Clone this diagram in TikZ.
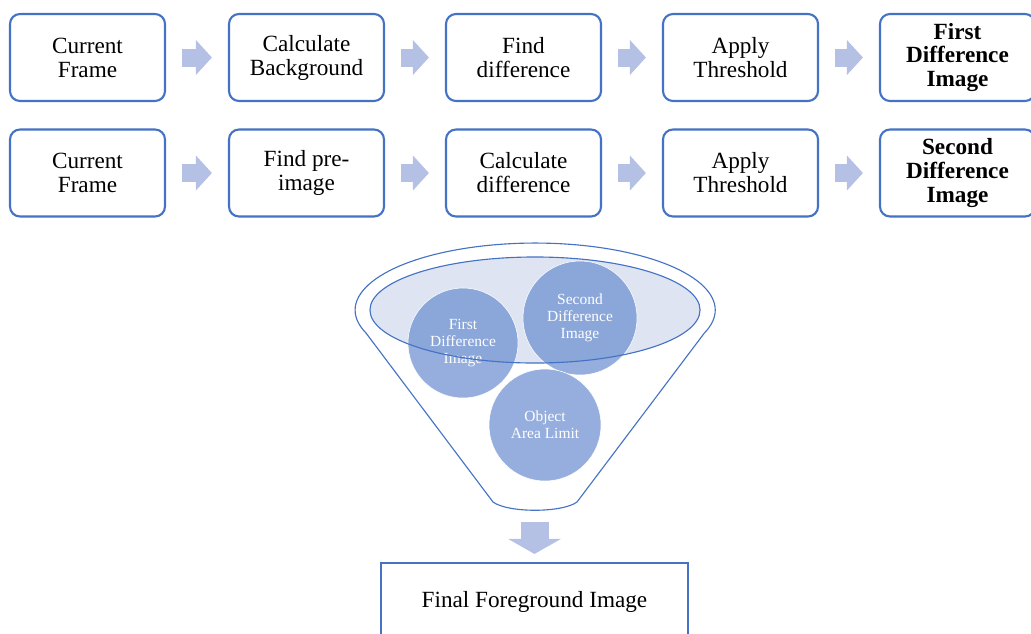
\documentclass[tikz,border=0pt]{standalone}
\usepackage{fontspec}
\setmainfont{Liberation Serif}
\usetikzlibrary{arrows.meta}
\definecolor{boxblue}{RGB}{68,114,196}
\definecolor{arrowblue}{RGB}{180,192,228}
\definecolor{ballblue}{RGB}{104,140,206}
\definecolor{ellfill}{RGB}{222,228,242}

\begin{document}
\begin{tikzpicture}[x=0.025cm, y=-0.025cm, rect/.style={rectangle, draw=boxblue, line width=1.5pt, fill=white, rounded corners=#1, minimum width=3.875cm, minimum height=2.175cm, align=center, font=\fontsize{16.5}{17}\selectfont}, rect/.default=0.25cm, blkarrow/.style={draw=arrowblue, line width=0.45cm, -{Triangle[length=0.4cm, width=0.85cm]}, shorten <=0.4cm, shorten >=0.4cm}, ball/.style={circle, draw=white, thin, fill=ballblue, fill opacity=0.7, text opacity=1, text=white, minimum size=2.8cm, align=center, font=\fontsize{11}{12}\selectfont}, funnel/.style={draw=boxblue, line width=0.8pt}]

\useasboundingbox (0,0) rectangle (1031,633);
\clip (0,0) rectangle (1031,633);

\node [rect] (CF1) at (87.5, 57.5) {Current\\Frame};
\node [rect] (CB) at (306.5, 57.5) {Calculate\\Background};
\node [rect] (FD) at (523.5, 57.5) {Find\\difference};
\node [rect] (AT1) at (740.5, 57.5) {Apply\\Threshold};
\node [rect, font=\fontsize{16.5}{17}\selectfont\bfseries] (FDI) at (957.5, 57.5) {First\\Difference\\Image};
\node [rect] (CF2) at (87.5, 173) {Current\\Frame};
\node [rect] (FP) at (306.5, 173) {Find pre-\\image};
\node [rect] (CD) at (523.5, 173) {Calculate\\difference};
\node [rect] (AT2) at (740.5, 173) {Apply\\Threshold};
\node [rect, font=\fontsize{16.5}{17}\selectfont\bfseries] (SDI) at (957.5, 173) {Second\\Difference\\Image};
\node [rect=0pt, minimum width=7.675cm, minimum height=1.95cm] (FFI) at (534.5, 602) {Final Foreground Image};

\draw[blkarrow] (CF1) -- (CB);
\draw[blkarrow] (CB) -- (FD);
\draw[blkarrow] (FD) -- (AT1);
\draw[blkarrow] (AT1) -- (FDI);
\draw[blkarrow] (CF2) -- (FP);
\draw[blkarrow] (FP) -- (CD);
\draw[blkarrow] (CD) -- (AT2);
\draw[blkarrow] (AT2) -- (SDI);

% funnel
\draw[funnel] (366,333) arc [start angle=200, end angle=-20, x radius=4.5cm, y radius=1.675cm] -- (577,502) .. controls (562,513) and (508,513) .. (493,502) -- cycle;
\fill[ellfill] (535,310) ellipse [x radius=4.125cm, y radius=1.325cm];
\node [ball, minimum size=2.75cm] (B1) at (463,343) {First\\Difference\\Image};
\node [ball, minimum size=2.85cm] (B2) at (580,318) {Second\\Difference\\Image};
\node [ball] (B3) at (545,425) {Object\\Area Limit};
\draw[funnel] (535,310) ellipse [x radius=4.125cm, y radius=1.325cm];

\coordinate (FB) at (534.5,512);
\draw[blkarrow, line width=0.7cm, -{Triangle[length=0.375cm, width=1.3cm]}, shorten <=0.25cm, shorten >=0.2cm] (FB) -- (FFI);

\end{tikzpicture}
\end{document}
